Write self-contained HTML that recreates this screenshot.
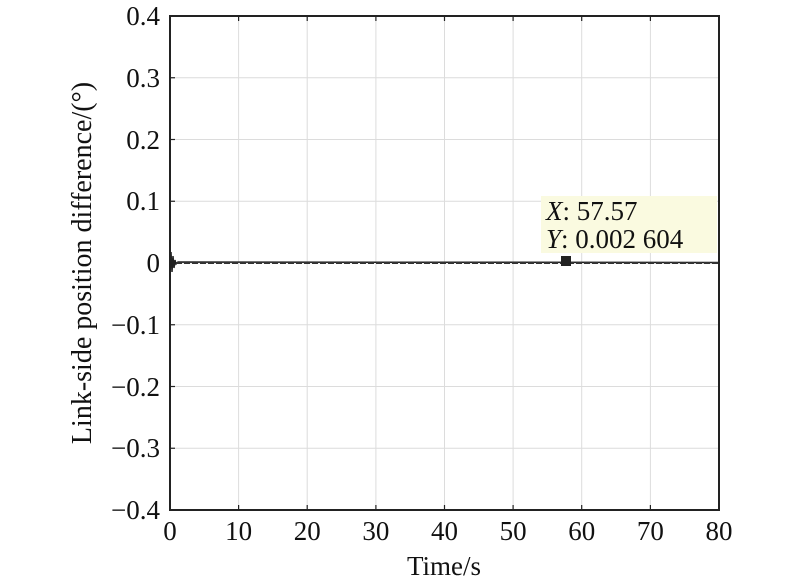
<!DOCTYPE html>
<html><head><style>body{margin:0;background:#fff}</style></head><body>
<svg width="800" height="583" xmlns="http://www.w3.org/2000/svg" font-family="Liberation Serif, serif" font-size="27">
<g stroke="#dcdcdc" stroke-width="1">
<line x1="238.6" y1="16" x2="238.6" y2="510"/><line x1="307.2" y1="16" x2="307.2" y2="510"/>
<line x1="375.9" y1="16" x2="375.9" y2="510"/><line x1="444.5" y1="16" x2="444.5" y2="510"/>
<line x1="513.1" y1="16" x2="513.1" y2="510"/><line x1="581.7" y1="16" x2="581.7" y2="510"/>
<line x1="650.4" y1="16" x2="650.4" y2="510"/>
<line x1="170" y1="77.75" x2="719" y2="77.75"/><line x1="170" y1="139.5" x2="719" y2="139.5"/>
<line x1="170" y1="201.25" x2="719" y2="201.25"/><line x1="170" y1="263" x2="719" y2="263"/>
<line x1="170" y1="324.75" x2="719" y2="324.75"/><line x1="170" y1="386.5" x2="719" y2="386.5"/>
<line x1="170" y1="448.25" x2="719" y2="448.25"/>
</g>
<rect x="541" y="196" width="176" height="57" fill="#fafae0"/>
<g stroke="#222" stroke-width="1.5">
<polyline fill="none" points="170,263 171,252 172,272 173,256 174,268 175,260 176,264 178,262 719,262.5"/>
</g>
<line x1="176" y1="263" x2="719" y2="263" stroke="#333" stroke-width="2" stroke-dasharray="6,2"/>
<rect x="561" y="256" width="10" height="10" fill="#222"/>
<rect x="170" y="16" width="549" height="494" fill="none" stroke="#222" stroke-width="2"/>
<g stroke="#222" stroke-width="1.2">
<line x1="238.6" y1="510" x2="238.6" y2="505"/><line x1="307.2" y1="510" x2="307.2" y2="505"/><line x1="375.9" y1="510" x2="375.9" y2="505"/><line x1="444.5" y1="510" x2="444.5" y2="505"/><line x1="513.1" y1="510" x2="513.1" y2="505"/><line x1="581.7" y1="510" x2="581.7" y2="505"/><line x1="650.4" y1="510" x2="650.4" y2="505"/>
<line x1="238.6" y1="16" x2="238.6" y2="21"/><line x1="307.2" y1="16" x2="307.2" y2="21"/><line x1="375.9" y1="16" x2="375.9" y2="21"/><line x1="444.5" y1="16" x2="444.5" y2="21"/><line x1="513.1" y1="16" x2="513.1" y2="21"/><line x1="581.7" y1="16" x2="581.7" y2="21"/><line x1="650.4" y1="16" x2="650.4" y2="21"/>
<line x1="170" y1="77.75" x2="175" y2="77.75"/><line x1="170" y1="139.5" x2="175" y2="139.5"/><line x1="170" y1="201.25" x2="175" y2="201.25"/><line x1="170" y1="324.75" x2="175" y2="324.75"/><line x1="170" y1="386.5" x2="175" y2="386.5"/><line x1="170" y1="448.25" x2="175" y2="448.25"/>
</g>
<g text-anchor="end" fill="#111">
<text x="160" y="25">0.4</text><text x="160" y="87">0.3</text><text x="160" y="149">0.2</text><text x="160" y="210">0.1</text><text x="160" y="272">0</text><text x="160" y="334">−0.1</text><text x="160" y="396">−0.2</text><text x="160" y="457">−0.3</text><text x="160" y="519">−0.4</text>
</g>
<g text-anchor="middle" fill="#111">
<text x="170" y="540">0</text><text x="238.6" y="540">10</text><text x="307.2" y="540">20</text><text x="375.9" y="540">30</text><text x="444.5" y="540">40</text><text x="513.1" y="540">50</text><text x="581.7" y="540">60</text><text x="650.4" y="540">70</text><text x="719" y="540">80</text>
<text x="444" y="575">Time/s</text>
<text transform="translate(91,263) rotate(-90)" font-size="28">Link-side position difference/(°)</text>
</g>
<text x="546" y="220" fill="#111"><tspan font-style="italic">X</tspan>: 57.57</text>
<text x="546" y="248" fill="#111"><tspan font-style="italic">Y</tspan>: 0.002 604</text>
</svg>
</body></html>
